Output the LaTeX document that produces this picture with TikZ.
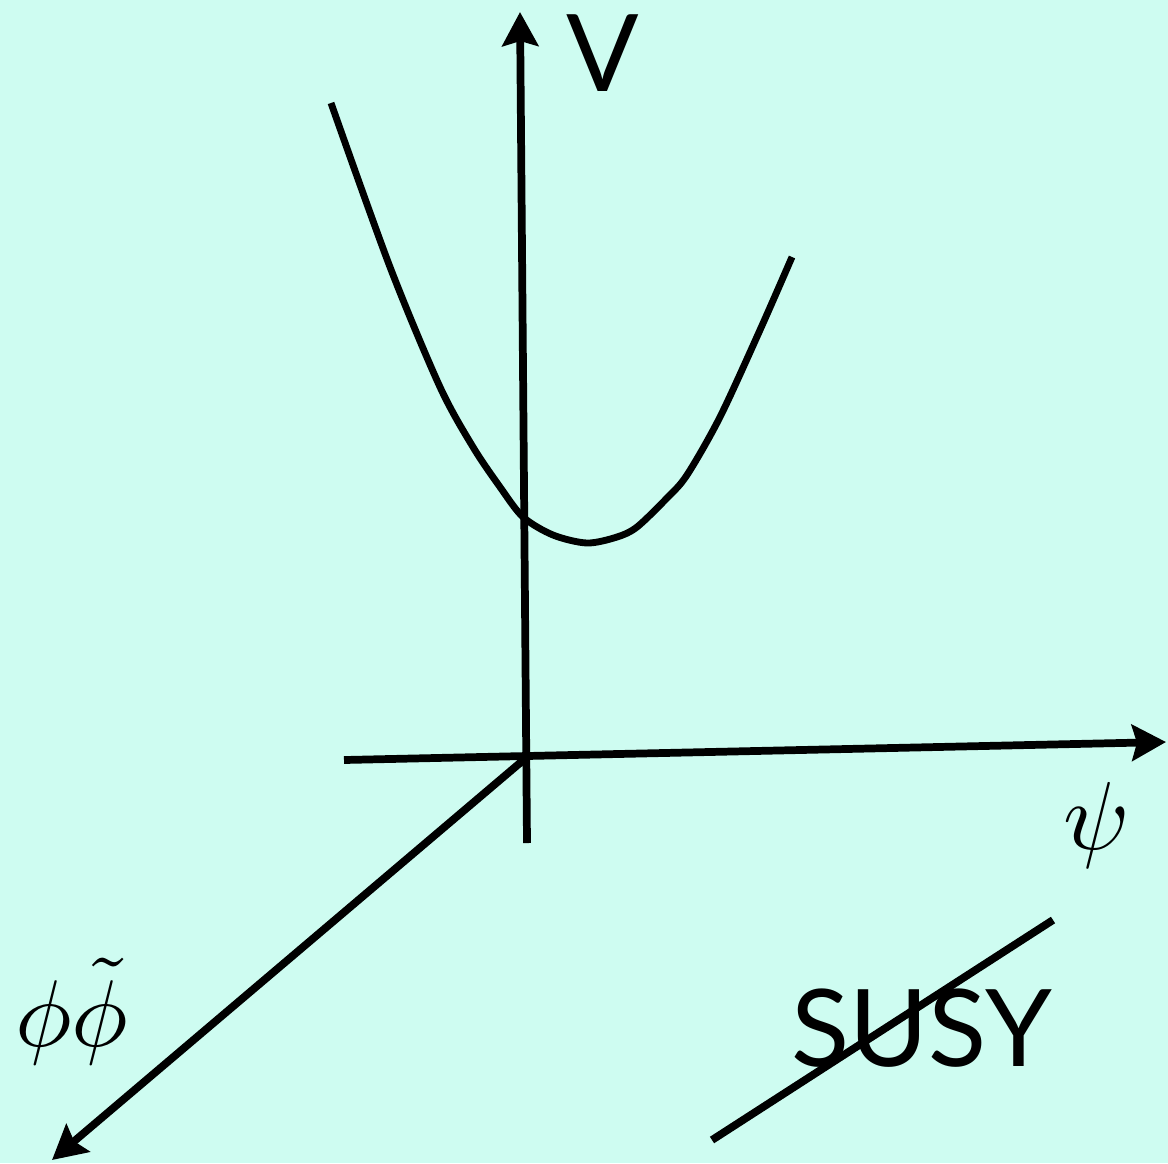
\documentclass[tikz,border=0pt]{standalone}
\usepackage{fontspec}
\usepackage{graphicx}
\usepackage{tikz}
\usetikzlibrary{arrows.meta,positioning,calc}
\newfontfamily\gillfont{Lato}
\definecolor{mMint}{RGB}{206,252,241}
\definecolor{mInk}{RGB}{0,0,0}
\tikzset{
axis/.style={line width=4.4pt,draw=mInk,-{Stealth[length=0.68cm,width=0.72cm,inset=0.1cm]}},
potential/.style={line width=3.9pt,draw=mInk,line join=round},
strike/.style={line width=4.4pt,draw=mInk},
biglabel/.style={inner sep=0pt,font=\gillfont\fontsize{61}{61}\selectfont},
mathlabel/.style={inner sep=0pt}
}

\begin{document}
\begin{tikzpicture}[x=0.02cm,y=-0.02cm]
\fill[mMint] (0,0) rectangle (1168,1163);
\useasboundingbox (0,0) rectangle (1168,1163);
\coordinate (vbot) at (527,843);
\coordinate (vtop) at (520,12);
\coordinate (psistart) at (344,760);
\coordinate (psiend) at (1166,742);
\coordinate (origin) at (527,757);
\coordinate (phiend) at (52,1160);
\coordinate (susyA) at (712,1140);
\coordinate (susyB) at (1053,920);
\node[biglabel] (vlab) at (603,53) {V};
\node[mathlabel] (psilab) at (1097,825) {\scalebox{5.5}{$\psi$}};
\node[mathlabel] (philab) at (72,1012) {\scalebox{5.4}{$\phi\tilde\phi$}};
\node[biglabel] (susy) at (922,1028) {SUSY};
\draw[axis] (vbot)--(vtop);
\draw[axis] (psistart)--(psiend);
\draw[axis] (origin)--(phiend);
\draw[potential] plot[smooth,tension=0.5] coordinates {(331,103) (390,267) (440,387) (473,447) (500,487) (523,517) (553,535) (587,543) (617,537) (637,527) (667,498) (687,475) (720,417) (760,330) (792,257)};
\draw[strike] (susyA)--(susyB);
\end{tikzpicture}
\end{document}
